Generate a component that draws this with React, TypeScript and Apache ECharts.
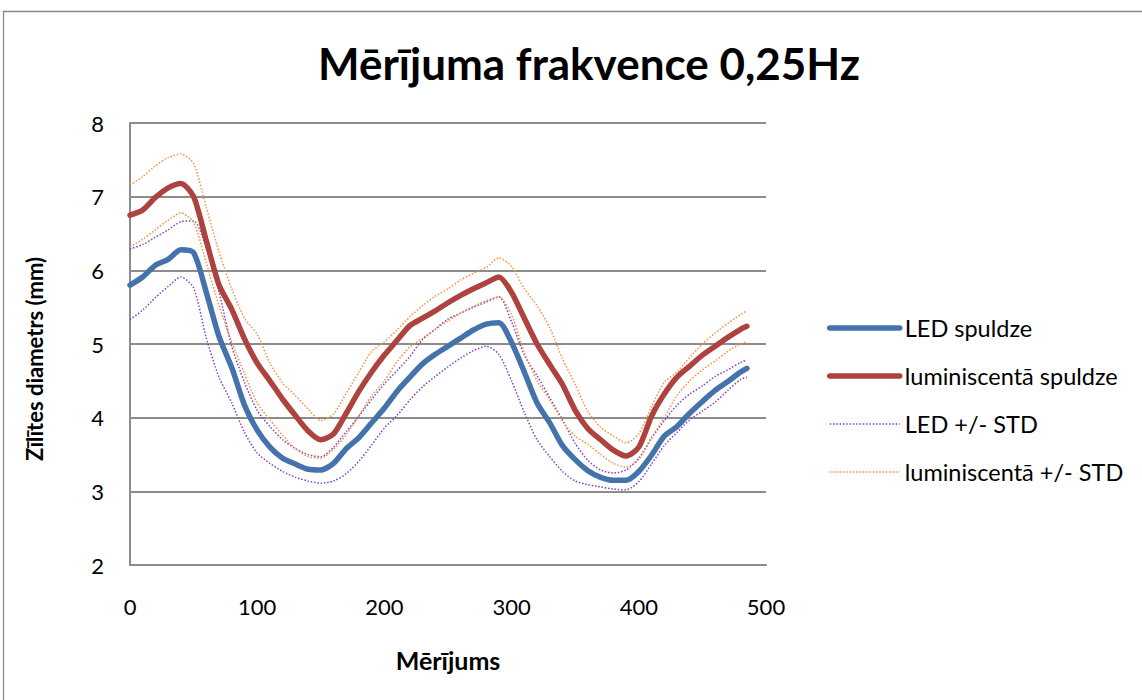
import React, { useEffect, useRef } from "react";
import * as echarts from "echarts";

const xs = [0,10,20,30,40,50,60,70,80,90,100,110,120,130,140,150,160,170,180,190,200,210,220,230,240,250,260,270,280,290,300,310,320,330,340,350,360,370,380,390,400,410,420,430,440,450,460,470,480,485];

const ledMean = [5.80,5.91,6.07,6.15,6.28,6.24,5.70,5.10,4.68,4.17,3.83,3.60,3.45,3.37,3.30,3.29,3.38,3.58,3.73,3.93,4.13,4.36,4.55,4.73,4.86,4.97,5.08,5.19,5.27,5.29,5.02,4.62,4.20,3.93,3.62,3.43,3.28,3.19,3.15,3.15,3.27,3.49,3.75,3.88,4.06,4.22,4.37,4.49,4.62,4.67];

const lumMean = [6.75,6.82,6.99,7.12,7.18,7.00,6.40,5.80,5.47,5.07,4.74,4.50,4.25,4.03,3.82,3.70,3.78,4.06,4.36,4.62,4.85,5.05,5.25,5.35,5.45,5.56,5.66,5.75,5.83,5.91,5.70,5.35,5.00,4.72,4.45,4.10,3.85,3.70,3.56,3.48,3.60,4.02,4.32,4.55,4.70,4.85,4.97,5.09,5.20,5.24];

const ledUpper = [6.29,6.35,6.45,6.55,6.66,6.67,6.30,5.70,4.97,4.48,4.10,3.88,3.70,3.58,3.50,3.47,3.60,3.81,4.02,4.25,4.46,4.64,4.83,5.06,5.20,5.34,5.42,5.50,5.57,5.64,5.30,4.85,4.57,4.27,3.97,3.65,3.42,3.29,3.25,3.29,3.45,3.72,3.96,4.17,4.32,4.43,4.56,4.65,4.75,4.78];

const ledLower = [5.33,5.46,5.63,5.78,5.91,5.76,5.08,4.55,4.20,3.80,3.52,3.38,3.27,3.19,3.14,3.11,3.14,3.24,3.41,3.63,3.86,4.03,4.24,4.42,4.56,4.69,4.81,4.91,4.97,4.86,4.50,4.07,3.70,3.47,3.27,3.14,3.09,3.06,3.03,3.02,3.13,3.37,3.62,3.80,3.97,4.09,4.21,4.37,4.52,4.55];

const lumUpper = [7.16,7.27,7.42,7.53,7.58,7.45,6.85,6.25,5.75,5.35,5.13,4.74,4.47,4.30,4.12,3.96,4.05,4.33,4.62,4.90,5.03,5.19,5.37,5.52,5.65,5.75,5.87,5.96,6.04,6.17,6.05,5.75,5.52,5.22,4.80,4.45,4.08,3.87,3.75,3.66,3.78,4.15,4.48,4.62,4.82,5.00,5.15,5.28,5.40,5.45];

const lumLower = [6.32,6.42,6.55,6.68,6.78,6.65,6.10,5.52,5.03,4.60,4.20,3.97,3.76,3.58,3.47,3.45,3.57,3.77,4.03,4.30,4.50,4.76,4.96,5.08,5.20,5.31,5.42,5.51,5.59,5.64,5.40,4.88,4.50,4.24,3.95,3.75,3.64,3.50,3.38,3.33,3.43,3.73,4.00,4.30,4.50,4.65,4.77,4.90,5.00,5.03];

const seriesNames = ["LED spuldze", "luminiscentā spuldze", "LED +/- STD", "luminiscentā +/- STD"];
const titleText = "Mērījuma frakvence 0,25Hz";
const xAxisName = "Mērījums";
const yAxisName = "Zīlītes diametrs (mm)";

const pairs = (ys: number[]) => xs.map((x, i) => [x, ys[i]]);

export default function App() {
  const ref = useRef<HTMLDivElement>(null);
  useEffect(() => {
    if (!ref.current) return;
    const chart = echarts.init(ref.current, undefined, { renderer: "svg" });
    const font = "Lato";
    const blue = "#4472aa";
    const red = "#ae423e";
    const purple = "#7f44c8";
    const orange = "#f4903e";
    const dotted = (color: string, name: string, ys: number[]) => ({
      type: "line",
      name,
      data: pairs(ys),
      symbol: "none",
      showSymbol: false,
      smooth: 0.25,
      lineStyle: { color, width: 1.5, type: [1.5, 1.8] },
      itemStyle: { color },
      z: 2,
    });
    const solid = (color: string, name: string, ys: number[]) => ({
      type: "line",
      name,
      data: pairs(ys),
      symbol: "none",
      showSymbol: false,
      smooth: 0.25,
      lineStyle: { color, width: 5.5, cap: "round", join: "round" },
      itemStyle: { color },
      z: 3,
    });
    chart.setOption({
      animation: false,
      backgroundColor: "#ffffff",
      title: {
        text: titleText,
        left: 584,
        textAlign: "center",
        top: 36,
        textStyle: { fontFamily: font, fontWeight: "bold", fontSize: 44, color: "#000" },
      },
      graphic: [
        {
          type: "rect",
          shape: { x: 3.5, y: 11.5, width: 1160, height: 720 },
          style: { fill: "none", stroke: "#8a8a8a", lineWidth: 1.3 },
          silent: true,
        },
        {
          type: "text",
          x: 34,
          y: 359,
          rotation: Math.PI / 2,
          style: {
            text: yAxisName,
            fontFamily: font,
            fontWeight: "bold",
            fontSize: 22,
            fill: "#000",
            align: "center",
            verticalAlign: "middle",
          },
          silent: true,
        },
      ],
      legend: {
        orient: "vertical",
        left: 827,
        top: 316,
        padding: 0,
        itemWidth: 70,
        itemHeight: 14,
        itemGap: 24,
        data: seriesNames,
        itemStyle: { opacity: 0 },
        lineStyle: { width: "inherit" },
        textStyle: { fontFamily: font, fontSize: 23.5, color: "#000", lineHeight: 24 },
      },
      grid: { left: 130, right: 376, top: 123, bottom: 135, containLabel: false },
      xAxis: {
        type: "value",
        min: 0,
        max: 500,
        interval: 100,
        name: xAxisName,
        nameLocation: "middle",
        nameGap: 82,
        nameTextStyle: { fontFamily: font, fontWeight: "bold", fontSize: 25, color: "#000" },
        axisLine: { show: true, lineStyle: { color: "#8c8c8c", width: 2 } },
        axisTick: { show: false },
        splitLine: { show: false },
        axisLabel: { fontFamily: font, fontSize: 22, color: "#000", margin: 30 },
      },
      yAxis: {
        type: "value",
        min: 2,
        max: 8,
        interval: 1,
        axisLine: { show: true, lineStyle: { color: "#8c8c8c", width: 2 } },
        axisTick: { show: false },
        splitLine: { show: true, lineStyle: { color: "#8c8c8c", width: 2 } },
        axisLabel: { fontFamily: font, fontSize: 22, color: "#000", margin: 26 },
      },
      series: [
        solid(blue, seriesNames[0], ledMean),
        solid(red, seriesNames[1], lumMean),
        dotted(purple, seriesNames[2], ledUpper),
        dotted(purple, seriesNames[2], ledLower),
        dotted(orange, seriesNames[3], lumUpper),
        dotted(orange, seriesNames[3], lumLower),
      ],
    });
    return () => chart.dispose();
  }, []);
  return <div ref={ref} style={{ position: "fixed", left: 0, top: 0, width: 1142, height: 700 }} />;
}
